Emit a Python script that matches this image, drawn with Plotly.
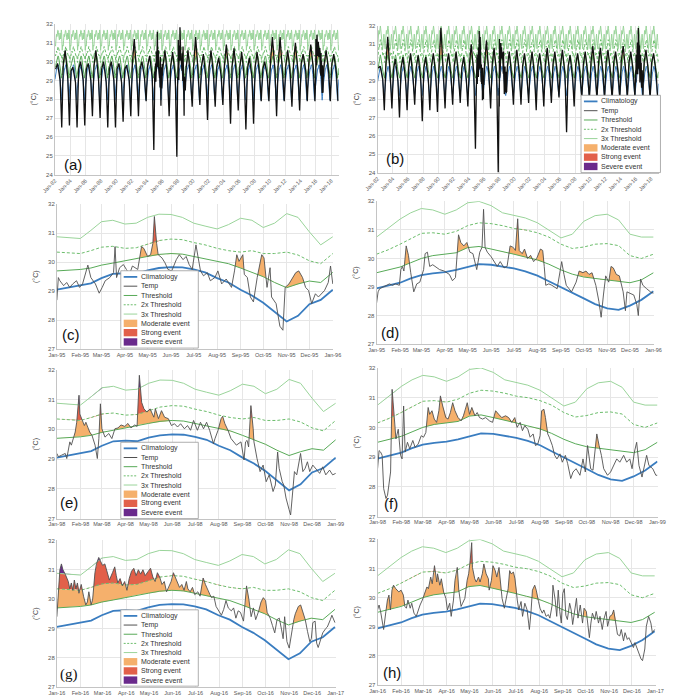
import numpy as np
import plotly.graph_objects as go

W, H = 675, 699

# ---------------- data ----------------
# annual grid (day of year) for climatology and thresholds
grid_doy = [0, 15, 31, 45, 59, 74, 90, 105, 120, 135, 151, 166, 181, 196, 212, 227, 243, 258, 273, 288, 304, 319, 334, 349, 365]

# left-column dataset (panels a, c, e, g)
clim_L = [29.05, 29.12, 29.2, 29.27, 29.45, 29.6, 29.62, 29.6, 29.72, 29.8, 29.83, 29.82, 29.75, 29.65, 29.45, 29.3, 29.05, 28.85, 28.6, 28.3, 27.95, 28.15, 28.55, 28.7, 29.05]
thr_L = [29.7, 29.72, 29.75, 29.8, 29.9, 29.97, 30.05, 30.15, 30.2, 30.27, 30.3, 30.28, 30.2, 30.1, 30.02, 29.95, 29.8, 29.65, 29.5, 29.3, 29.12, 29.25, 29.35, 29.3, 29.65]
thr2_L = [30.35, 30.33, 30.3, 30.4, 30.52, 30.55, 30.48, 30.5, 30.62, 30.75, 30.8, 30.78, 30.68, 30.6, 30.48, 30.4, 30.35, 30.4, 30.3, 30.3, 30.35, 30.25, 30.05, 29.95, 30.3]
thr3_L = [30.88, 30.85, 30.82, 31.1, 31.4, 31.45, 31.32, 31.35, 31.55, 31.66, 31.65, 31.55, 31.35, 31.25, 31.15, 31.3, 31.52, 31.45, 31.2, 31.35, 31.68, 31.55, 31.05, 30.6, 30.88]

# right-column dataset (panels b, d, f, h)
clim_R = [28.95, 29.05, 29.15, 29.3, 29.42, 29.48, 29.52, 29.6, 29.7, 29.8, 29.78, 29.72, 29.65, 29.55, 29.4, 29.2, 29.0, 28.8, 28.6, 28.4, 28.25, 28.2, 28.35, 28.55, 28.85]
thr_R = [29.5, 29.6, 29.7, 29.85, 30.0, 30.1, 30.15, 30.2, 30.38, 30.42, 30.33, 30.25, 30.15, 30.05, 29.95, 29.8, 29.6, 29.45, 29.35, 29.3, 29.25, 29.2, 29.15, 29.25, 29.5]
thr2_R = [30.15, 30.3, 30.5, 30.7, 30.88, 30.9, 30.85, 30.95, 31.15, 31.25, 31.22, 31.15, 31.05, 31.0, 30.9, 30.75, 30.5, 30.35, 30.4, 30.5, 30.52, 30.45, 30.1, 30.0, 30.15]
thr3_R = [30.75, 31.05, 31.38, 31.6, 31.75, 31.7, 31.55, 31.7, 31.95, 32.0, 31.85, 31.6, 31.5, 31.42, 31.25, 31.0, 30.72, 30.85, 31.3, 31.5, 31.55, 31.35, 30.85, 30.75, 30.75]

# (c) 1995, left dataset
c_doy = [0, 2, 4, 9, 13, 17, 21, 26, 30, 34, 41, 45, 51, 56, 60, 64, 70, 75, 77, 79, 83, 88, 92, 96, 100, 107, 112, 115, 120, 124, 127, 129, 132, 134, 139, 143, 147, 152, 158, 162, 167, 171, 175, 179, 184, 187, 190, 194, 199, 203, 209, 213, 218, 224, 231, 235, 238, 241, 246, 248, 252, 256, 260, 265, 271, 274, 278, 282, 284, 290, 295, 299, 302, 307, 312, 316, 320, 325, 329, 333, 337, 342, 346, 354, 359, 362, 365]
c_temp = [28.69, 29.47, 29.36, 29.19, 29.3, 29.13, 29.25, 29.36, 29.13, 29.25, 29.9, 29.47, 29.25, 28.93, 29.13, 29.36, 29.47, 29.64, 30.54, 29.47, 29.81, 29.92, 29.75, 29.58, 29.87, 29.75, 30.54, 30.48, 30.2, 30.26, 30.65, 31.58, 30.65, 30.26, 30.15, 29.98, 29.75, 29.7, 30.09, 30.26, 30.09, 30.2, 29.92, 29.75, 30.6, 30.09, 29.7, 29.53, 29.64, 29.36, 29.47, 29.7, 29.25, 29.42, 29.13, 29.7, 30.26, 30.03, 30.26, 29.58, 29.47, 28.8, 28.63, 29.47, 30.26, 30.15, 29.13, 29.81, 28.8, 28.57, 27.79, 27.65, 29.13, 29.25, 29.47, 29.64, 29.7, 29.47, 29.13, 29.02, 28.57, 28.91, 28.8, 29.02, 29.3, 29.87, 29.25]

# (d) 1995, right dataset
d_doy = [0, 2, 4, 8, 13, 17, 21, 25, 30, 32, 34, 36, 39, 42, 45, 49, 53, 57, 62, 64, 67, 70, 74, 79, 83, 89, 96, 100, 104, 108, 111, 115, 119, 123, 127, 132, 136, 139, 141, 143, 146, 151, 155, 159, 163, 168, 172, 176, 180, 183, 186, 188, 192, 195, 199, 203, 207, 211, 216, 219, 221, 223, 227, 231, 238, 242, 244, 247, 250, 257, 263, 267, 272, 276, 280, 284, 289, 293, 296, 299, 302, 306, 309, 312, 316, 320, 325, 328, 330, 334, 339, 343, 345, 348, 351, 356, 361, 365]
d_temp = [28.44, 28.83, 28.94, 29.0, 29.06, 29.11, 29.06, 29.11, 29.06, 29.61, 29.72, 29.56, 30.44, 30.11, 29.5, 28.83, 29.11, 29.17, 29.61, 30.17, 30.22, 29.72, 29.78, 29.67, 29.61, 29.56, 29.44, 29.22, 29.33, 30.83, 30.56, 30.44, 30.56, 30.22, 30.17, 29.61, 30.22, 30.39, 31.72, 30.39, 30.22, 30.06, 29.89, 29.72, 29.89, 29.67, 29.72, 30.44, 30.39, 30.28, 31.39, 30.28, 30.17, 30.33, 30.0, 30.11, 29.89, 30.0, 30.33, 30.28, 29.72, 29.06, 29.11, 29.06, 28.94, 29.5, 29.89, 29.44, 29.06, 28.83, 29.17, 29.56, 29.5, 29.56, 29.44, 29.5, 29.06, 28.5, 27.94, 28.72, 29.39, 29.17, 29.72, 29.67, 29.44, 29.39, 28.83, 28.17, 28.83, 28.78, 28.72, 28.39, 28.0, 29.28, 29.06, 28.94, 28.83, 28.78]

# (e) 1998, left dataset
e_doy = [0, 2, 6, 11, 13, 17, 19, 21, 24, 26, 29, 30, 33, 36, 38, 40, 43, 46, 50, 53, 55, 57, 59, 63, 68, 72, 76, 80, 84, 89, 93, 97, 102, 105, 108, 111, 114, 118, 122, 127, 129, 133, 137, 141, 146, 150, 154, 158, 162, 167, 171, 175, 179, 184, 188, 192, 196, 200, 205, 207, 211, 215, 217, 220, 224, 228, 232, 235, 241, 245, 247, 249, 251, 254, 257, 258, 262, 266, 270, 274, 278, 283, 286, 289, 291, 295, 297, 300, 304, 306, 308, 311, 314, 319, 322, 325, 328, 331, 335, 340, 344, 348, 352, 357, 361, 365]
e_temp = [29.19, 29.08, 29.13, 29.19, 29.02, 29.58, 29.47, 29.63, 29.91, 30.24, 31.15, 30.52, 30.3, 30.13, 30.24, 30.08, 29.91, 29.8, 29.47, 29.02, 29.69, 30.86, 30.02, 29.74, 29.86, 29.69, 30.02, 30.05, 30.15, 30.1, 30.2, 30.05, 30.15, 30.1, 31.82, 30.91, 30.69, 30.58, 30.69, 30.41, 30.69, 30.36, 30.63, 30.41, 30.36, 30.13, 30.19, 30.08, 30.19, 30.02, 30.13, 29.97, 30.3, 29.97, 30.24, 30.02, 30.24, 29.97, 29.52, 29.69, 29.97, 30.36, 30.44, 30.19, 29.97, 29.69, 29.58, 29.47, 29.58, 28.97, 29.58, 29.63, 29.41, 30.8, 30.02, 29.58, 29.02, 28.58, 28.8, 28.24, 28.47, 27.91, 28.13, 29.24, 28.69, 28.24, 28.13, 27.69, 27.3, 27.12, 27.69, 28.58, 28.47, 29.19, 28.58, 28.69, 28.91, 28.58, 28.8, 28.63, 28.52, 28.74, 28.47, 28.63, 28.47, 28.52]

# (f) 1998, right dataset
f_doy = [0, 2, 4, 6, 8, 11, 13, 15, 17, 19, 22, 24, 27, 30, 32, 34, 36, 39, 42, 46, 49, 53, 57, 60, 63, 66, 68, 71, 74, 77, 80, 82, 85, 89, 92, 95, 98, 101, 105, 109, 112, 115, 117, 120, 123, 127, 130, 133, 137, 141, 146, 150, 154, 158, 162, 167, 171, 175, 179, 182, 186, 189, 192, 196, 199, 203, 206, 209, 212, 214, 217, 219, 222, 224, 228, 231, 234, 238, 241, 245, 248, 252, 255, 259, 264, 268, 271, 274, 278, 281, 284, 286, 289, 292, 295, 300, 304, 308, 312, 316, 321, 325, 329, 332, 335, 338, 341, 345, 348, 351, 354, 359, 363, 365]
f_temp = [28.61, 29.22, 29.17, 29.06, 27.94, 27.61, 27.72, 28.06, 28.5, 31.28, 30.17, 29.61, 29.94, 29.06, 28.94, 30.72, 29.17, 29.5, 29.28, 29.56, 29.33, 29.44, 29.72, 29.67, 29.83, 30.67, 30.44, 30.56, 30.28, 30.17, 30.56, 31.06, 30.72, 30.33, 30.28, 30.5, 30.83, 30.56, 30.33, 30.22, 30.39, 30.61, 30.83, 30.44, 30.67, 30.39, 30.5, 30.33, 30.28, 30.33, 30.22, 30.17, 30.56, 30.44, 30.33, 30.39, 30.33, 30.17, 30.33, 30.0, 30.17, 29.89, 30.06, 29.94, 29.67, 29.78, 29.39, 29.44, 29.72, 30.56, 30.61, 30.33, 29.78, 29.67, 29.39, 29.06, 28.94, 29.11, 28.83, 29.06, 28.78, 28.28, 28.5, 28.61, 28.39, 28.94, 28.5, 29.39, 28.61, 28.56, 29.39, 29.78, 29.39, 29.06, 28.61, 28.39, 28.5, 28.72, 28.94, 28.83, 29.06, 28.83, 28.94, 28.61, 29.17, 29.5, 28.72, 28.33, 28.72, 29.06, 28.72, 28.61, 28.39, 28.39]

# (g) 2016, left dataset
g_doy = [0, 2, 4, 6, 8, 11, 15, 17, 19, 21, 23, 25, 27, 29, 32, 35, 38, 40, 42, 45, 47, 50, 52, 55, 57, 60, 63, 66, 69, 73, 76, 78, 80, 83, 86, 89, 92, 95, 98, 101, 104, 107, 110, 113, 116, 120, 123, 126, 129, 132, 135, 138, 141, 144, 147, 150, 153, 156, 159, 161, 164, 167, 170, 172, 175, 178, 181, 185, 188, 190, 192, 195, 198, 201, 203, 206, 209, 213, 216, 219, 222, 225, 229, 232, 235, 238, 241, 245, 247, 249, 252, 255, 258, 261, 265, 268, 271, 274, 276, 280, 283, 286, 289, 292, 295, 297, 299, 302, 305, 308, 311, 313, 317, 320, 323, 326, 329, 332, 334, 336, 339, 341, 343, 346, 349, 353, 355, 359, 361, 365]
g_temp = [29.4, 30.3, 31.0, 31.2, 31.0, 30.85, 30.6, 30.35, 30.55, 30.3, 30.65, 30.35, 30.55, 30.2, 30.5, 30.1, 29.8, 29.9, 30.25, 29.8, 30.0, 30.9, 31.2, 31.42, 31.3, 31.15, 31.2, 30.9, 30.65, 30.9, 31.1, 30.8, 30.55, 30.7, 30.45, 30.6, 30.3, 30.7, 30.95, 31.05, 30.8, 31.0, 30.85, 31.0, 30.8, 30.95, 31.05, 30.75, 30.6, 30.9, 30.75, 30.5, 30.6, 30.25, 30.4, 30.6, 30.9, 30.7, 30.55, 30.4, 30.5, 30.3, 30.6, 30.35, 30.25, 30.4, 30.15, 30.25, 30.1, 30.45, 30.72, 30.5, 30.3, 30.15, 30.05, 30.1, 29.75, 29.6, 29.45, 29.65, 29.95, 29.7, 29.6, 29.7, 29.35, 29.6, 29.55, 29.25, 29.75, 30.45, 30.0, 29.4, 29.7, 29.3, 29.6, 29.9, 30.05, 29.95, 29.55, 29.35, 29.1, 28.85, 29.3, 29.35, 28.95, 28.65, 29.4, 28.55, 28.33, 28.85, 29.3, 29.5, 29.75, 29.8, 29.55, 29.3, 28.9, 28.55, 28.65, 29.2, 29.25, 28.5, 28.35, 28.6, 28.85, 29.0, 29.05, 29.3, 29.45, 29.2]

# (h) 2016, right dataset
h_doy = [0, 2, 4, 6, 8, 11, 13, 15, 17, 19, 21, 24, 28, 31, 34, 36, 38, 40, 43, 45, 48, 51, 53, 56, 59, 62, 65, 67, 70, 72, 75, 78, 79, 82, 84, 87, 90, 92, 95, 97, 100, 102, 105, 107, 110, 112, 115, 118, 120, 122, 124, 125, 128, 130, 133, 135, 138, 140, 143, 146, 147, 150, 152, 155, 157, 160, 163, 164, 167, 169, 172, 174, 176, 179, 181, 184, 186, 189, 191, 194, 197, 199, 200, 202, 204, 207, 209, 212, 214, 217, 219, 222, 225, 227, 230, 231, 234, 236, 238, 240, 242, 244, 246, 248, 250, 253, 255, 257, 259, 262, 264, 267, 270, 272, 275, 277, 279, 281, 283, 286, 288, 291, 293, 296, 298, 301, 303, 306, 309, 311, 314, 316, 319, 321, 324, 326, 329, 331, 334, 337, 339, 342, 344, 347, 349, 352, 354, 357, 360, 362, 365]
h_temp = [29.58, 29.75, 29.53, 29.25, 28.91, 29.53, 29.92, 30.09, 29.58, 30.26, 30.43, 30.31, 30.2, 30.26, 30.09, 29.7, 29.64, 29.92, 29.64, 29.81, 29.47, 29.36, 29.53, 29.75, 29.92, 30.15, 30.37, 30.31, 30.71, 30.48, 31.1, 30.54, 30.82, 30.43, 30.65, 30.2, 29.98, 29.58, 29.81, 29.36, 29.92, 30.6, 31.04, 30.26, 29.7, 29.81, 29.98, 30.6, 30.82, 31.27, 31.89, 31.04, 30.65, 30.54, 30.71, 30.54, 30.82, 31.16, 30.82, 30.65, 30.26, 30.6, 31.1, 30.93, 30.71, 31.04, 30.26, 29.98, 29.64, 29.92, 30.31, 30.93, 30.82, 30.88, 30.65, 29.92, 29.58, 29.87, 29.36, 29.81, 29.58, 29.13, 28.91, 29.47, 30.26, 30.43, 30.26, 29.87, 29.64, 29.47, 29.58, 29.36, 29.42, 29.3, 29.75, 30.43, 29.92, 29.36, 30.26, 29.53, 29.13, 30.15, 30.31, 29.4, 29.25, 29.81, 29.58, 29.08, 29.47, 29.98, 29.3, 29.75, 29.13, 29.64, 29.53, 29.13, 28.63, 29.13, 29.47, 29.25, 29.53, 29.13, 29.36, 28.91, 29.25, 29.53, 29.02, 29.36, 29.42, 29.58, 29.08, 28.74, 28.69, 28.91, 28.52, 28.8, 28.57, 28.63, 28.46, 28.29, 28.46, 28.24, 28.07, 27.9, 27.84, 28.24, 29.02, 29.36, 29.13, 28.8, 28.91]

# (a)/(b) 1982-2018: per-year readings (early-year level, yearly peak, late-year level, yearly dip)
years = list(range(1982, 2019))
coarse_doy = [35, 125, 250, 325]
a_hi = [29.6, 29.9, 29.5, 29.6, 29.6, 29.8, 29.6, 29.6, 29.6, 29.6, 29.9, 29.6, 29.8, 29.7, 29.8, 29.8, 30.3, 29.6, 29.9, 29.7, 29.7, 29.7, 29.8, 29.8, 29.7, 29.6, 29.7, 29.6, 30.0, 29.8, 29.8, 29.9, 29.9, 30.0, 30.5, 29.9, 29.9]
a_peak = [29.9, 30.6, 29.7, 30.0, 29.9, 30.6, 30.0, 30.0, 29.9, 29.8, 31.2, 30.0, 30.3, 31.6, 30.6, 30.5, 31.8, 30.6, 31.3, 30.4, 30.6, 30.2, 30.9, 30.7, 30.5, 30.2, 30.5, 30.0, 31.3, 31.3, 30.6, 31.0, 30.4, 30.9, 31.5, 30.6, 30.4]
a_lo = [29.0, 29.1, 28.9, 29.0, 29.0, 29.1, 28.9, 29.0, 28.9, 29.0, 29.2, 29.1, 29.2, 29.3, 29.1, 29.2, 29.6, 29.1, 29.3, 29.1, 29.2, 29.2, 29.3, 29.2, 29.1, 29.2, 29.3, 29.2, 29.5, 29.3, 29.3, 29.4, 29.5, 29.6, 29.7, 29.4, 29.4]
a_dip = [26.5, 26.6, 26.5, 26.6, 27.1, 27.0, 26.5, 26.5, 26.8, 27.1, 27.1, 27.9, 25.3, 27.65, 27.1, 24.95, 27.1, 27.6, 27.7, 26.9, 27.6, 27.7, 26.7, 27.4, 26.4, 26.7, 27.9, 27.9, 27.1, 27.9, 27.6, 27.4, 27.9, 27.9, 28.3, 27.9, 27.9]
b_hi = [29.7, 29.9, 29.6, 29.7, 29.7, 29.7, 29.7, 29.8, 29.9, 29.8, 29.8, 29.7, 29.9, 29.9, 29.9, 29.9, 30.2, 29.8, 29.9, 29.8, 29.8, 29.8, 29.9, 29.9, 29.9, 29.8, 29.9, 29.9, 30.0, 30.0, 30.0, 30.0, 30.1, 30.0, 30.3, 30.0, 30.0]
b_peak = [29.8, 31.4, 30.2, 30.3, 30.5, 30.4, 30.3, 30.5, 31.9, 30.5, 30.6, 30.3, 31.0, 31.7, 31.2, 30.8, 31.3, 30.6, 30.7, 30.5, 30.6, 30.5, 30.8, 30.6, 30.7, 30.4, 30.5, 30.6, 30.9, 30.8, 30.7, 30.6, 30.9, 30.6, 31.9, 30.7, 30.5]
b_lo = [29.1, 29.2, 29.0, 29.1, 29.1, 29.1, 29.1, 29.2, 29.2, 29.2, 29.2, 29.1, 29.3, 29.3, 29.2, 29.3, 29.4, 29.2, 29.3, 29.2, 29.2, 29.2, 29.3, 29.3, 29.3, 29.2, 29.3, 29.3, 29.4, 29.4, 29.4, 29.4, 29.5, 29.4, 29.6, 29.4, 29.4]
b_dip = [27.4, 27.5, 27.0, 27.4, 27.7, 26.8, 27.4, 27.3, 27.5, 27.7, 27.8, 27.6, 25.3, 27.9, 27.5, 24.0, 28.3, 27.7, 27.7, 27.8, 27.4, 27.6, 27.8, 28.1, 26.2, 27.6, 28.0, 28.0, 27.9, 28.0, 27.9, 28.0, 28.0, 28.1, 27.8, 28.0, 28.0]

legend_labels = ["Climatology", "Temp", "Threshold", "2x Threshold", "3x Threshold",
                 "Moderate event", "Strong event", "Severe event"]
panel_keys = ["a", "b", "c", "d", "e", "f", "g", "h"]
panel_labels = ["(a)", "(b)", "(c)", "(d)", "(e)", "(f)", "(g)", "(h)"]
y_title = "(°C)"

# ---------------- styles / layout ----------------
FONT = "Liberation Sans"
C_CLIM, C_TEMP, C_TEMP_LONG = "#3a7dc0", "#505050", "#111111"
C_THR, C_THR2, C_THR3 = "#58aa58", "#6cbd6c", "#9ad49a"
C_MOD, C_STR, C_SEV = "#f5b06c", "#e2604a", "#6a2a8c"
GRID = "#e6e6e6"

panel_px = {  # x0, x1, ytop, ybottom in pixels
    "a": (35, 328, 13, 165), "b": (368, 658, 15, 163),
    "c": (37, 322, 195, 341), "d": (367, 653, 192, 336),
    "e": (37, 325, 362, 512), "f": (368, 657, 360, 510),
    "g": (37, 325, 534, 682), "h": (368, 655, 533, 680),
}
label_px = {"a": (42, 155), "b": (375, 149), "c": (40, 326), "d": (370, 324),
            "e": (38, 496), "f": (373, 497), "g": (38, 669), "h": (372, 667)}
legend_px = {"b": (578, 85, 660, 163), "c": (103, 262, 183, 340),
             "e": (103, 435, 183, 512), "g": (103, 604, 183, 681)}

datasets = {
    "L": (clim_L, thr_L, thr2_L, thr3_L),
    "R": (clim_R, thr_R, thr2_R, thr3_R),
}
detail = {"c": (1995, c_doy, c_temp), "d": (1995, d_doy, d_temp),
          "e": (1998, e_doy, e_temp), "f": (1998, f_doy, f_temp),
          "g": (2016, g_doy, g_temp), "h": (2016, h_doy, h_temp)}


def doy_days(year, doys):
    base = (np.datetime64(f"{year}-01-01") - np.datetime64("1970-01-01")).astype(int)
    return base + np.asarray(doys, float)


def to_str(days):
    sec = np.round(np.asarray(days, float) * 86400).astype("int64")
    dt = np.datetime64("1970-01-01T00:00:00") + sec.astype("timedelta64[s]")
    return [s.replace("T", " ") for s in np.datetime_as_string(dt, unit="m")]


def event_fill(tt, T, tg, L1, L2, L3, min_dur=5.0):
    lo, hi = max(tt[0], tg[0]), min(tt[-1], tg[-1])
    tu = np.union1d(tt, tg)
    tu = tu[(tu >= lo) & (tu <= hi)]
    Tu = np.interp(tu, tt, T)
    ls = [np.interp(tu, tg, L) for L in (L1, L2, L3)]
    xs = [tu[0]]
    for i in range(len(tu) - 1):
        fr = []
        for L in ls:
            d0, d1 = Tu[i] - L[i], Tu[i + 1] - L[i + 1]
            if d0 * d1 < 0:
                fr.append(d0 / (d0 - d1))
        for f in sorted(fr):
            xs.append(tu[i] + f * (tu[i + 1] - tu[i]))
        xs.append(tu[i + 1])
    xs = np.array(xs)
    Tr = np.interp(xs, tu, Tu)
    a1, a2, a3 = [np.interp(xs, tu, L) for L in ls]
    above = Tr > a1 + 1e-9
    Te = Tr.copy()
    n = len(xs)
    i = 0
    while i < n:
        if above[i]:
            j = i
            while j + 1 < n and above[j + 1]:
                j += 1
            start = xs[i - 1] if i > 0 else xs[i]
            end = xs[j + 1] if j + 1 < n else xs[j]
            if end - start < min_dur:
                Te[i:j + 1] = a1[i:j + 1]
            i = j + 1
        else:
            i += 1
    mod = np.minimum(np.maximum(Te, a1), a2)
    stg = np.minimum(np.maximum(Te, a2), a3)
    sev = np.maximum(Te, a3)
    return xs, [(a1, mod, C_MOD), (a2, stg, C_STR), (a3, sev, C_SEV)]


fig = go.Figure()
layout = {}
shapes, annos = [], []

for i, key in enumerate(panel_keys, start=1):
    xn = "x" if i == 1 else f"x{i}"
    yn = "y" if i == 1 else f"y{i}"
    clim, thr, thr2, thr3 = datasets["L" if key in "aceg" else "R"]
    long = key in "ab"
    if long:
        tg = np.concatenate([doy_days(yr, grid_doy[:-1]) for yr in years] + [doy_days(years[-1] + 1, [0])])
        tile = lambda arr: np.concatenate([np.array(arr[:-1], float) for _ in years] + [np.array(arr[-1:], float)])
        cl, t1, t2, t3 = tile(clim), tile(thr), tile(thr2), tile(thr3)
        hi, pk, lo_, dp = (a_hi, a_peak, a_lo, a_dip) if key == "a" else (b_hi, b_peak, b_lo, b_dip)
        dkeys = ["c", "e", "g"] if key == "a" else ["d", "f", "h"]
        dmap = {detail[k][0]: detail[k] for k in dkeys}
        ts, vs = [], []
        for k, yr in enumerate(years):
            if yr in dmap:
                _, dd, vv = dmap[yr]
                ts.append(doy_days(yr, dd)); vs.append(np.array(vv, float))
            else:
                ts.append(doy_days(yr, coarse_doy)); vs.append(np.array([hi[k], pk[k], lo_[k], dp[k]], float))
        tt, T = np.concatenate(ts), np.concatenate(vs)
        xr = to_str([doy_days(1982, [0])[0], doy_days(2018, [364])[0]])
        yr_range = [23.999, 32.001]
        lw = dict(clim=1.0, temp=1.3, thr=1.0)
        tcol = C_TEMP_LONG
    else:
        year, dd, vv = detail[key]
        tg = doy_days(year, grid_doy)
        cl, t1, t2, t3 = [np.array(a, float) for a in (clim, thr, thr2, thr3)]
        tt, T = doy_days(year, dd), np.array(vv, float)
        xr = to_str([doy_days(year, [0])[0], doy_days(year + 1, [0])[0] + 0.25])
        yr_range = [26.999, 32.001]
        lw = dict(clim=1.8, temp=0.9, thr=1.0)
        tcol = C_TEMP

    xs, layers = event_fill(tt, T, tg, t1, t2, t3)
    xs_s = to_str(xs)
    for lower, upper, colr in layers:
        fig.add_trace(go.Scatter(x=xs_s, y=lower, mode="lines", line=dict(width=0, color=colr),
                                 hoverinfo="skip", showlegend=False, xaxis=xn, yaxis=yn))
        fig.add_trace(go.Scatter(x=xs_s, y=upper, mode="lines", line=dict(width=0, color=colr),
                                 fill="tonexty", fillcolor=colr, hoverinfo="skip",
                                 showlegend=False, xaxis=xn, yaxis=yn))
    tg_s = to_str(tg)
    fig.add_trace(go.Scatter(x=tg_s, y=cl, mode="lines", line=dict(color=C_CLIM, width=lw["clim"]),
                             showlegend=False, xaxis=xn, yaxis=yn, name=legend_labels[0]))
    fig.add_trace(go.Scatter(x=tg_s, y=t3, mode="lines", line=dict(color=C_THR3, width=lw["thr"]),
                             showlegend=False, xaxis=xn, yaxis=yn, name=legend_labels[4]))
    fig.add_trace(go.Scatter(x=tg_s, y=t2, mode="lines", line=dict(color=C_THR2, width=lw["thr"], dash="3px,2px"),
                             showlegend=False, xaxis=xn, yaxis=yn, name=legend_labels[3]))
    fig.add_trace(go.Scatter(x=tg_s, y=t1, mode="lines", line=dict(color=C_THR, width=lw["thr"]),
                             showlegend=False, xaxis=xn, yaxis=yn, name=legend_labels[2]))
    fig.add_trace(go.Scatter(x=to_str(tt), y=T, mode="lines", line=dict(color=tcol, width=lw["temp"]),
                             showlegend=False, xaxis=xn, yaxis=yn, name=legend_labels[1]))

    x0, x1, ytop, ybot = panel_px[key]
    xa = dict(domain=[x0 / W, x1 / W], anchor=yn, type="date", range=xr,
              showgrid=True, gridcolor=GRID, gridwidth=0.6, zeroline=False,
              showline=True, linecolor="#c4c4c4", linewidth=0.8, ticks="",
              tickfont=dict(size=5.5, color="#555", family=FONT), tickformat="%b-%y")
    if long:
        xa.update(dtick="M24", tick0="1982-01-01", tickangle=-45)
    else:
        xa.update(dtick="M1", tick0=f"{detail[key][0]}-01-01", tickangle=0)
    ya = dict(domain=[1 - ybot / H, 1 - ytop / H], anchor=xn, range=yr_range, dtick=1,
              tick0=24, showgrid=True, gridcolor=GRID, gridwidth=0.6, zeroline=False,
              showline=True, linecolor="#c4c4c4", linewidth=0.8, ticks="",
              tickfont=dict(size=6, color="#555", family=FONT),
              title=dict(text=y_title, font=dict(size=7, color="#444", family=FONT), standoff=8))
    layout["xaxis" if i == 1 else f"xaxis{i}"] = xa
    layout["yaxis" if i == 1 else f"yaxis{i}"] = ya

    lx, ly = label_px[key]
    annos.append(dict(text=panel_labels[i - 1], xref="paper", yref="paper", x=lx / W, y=1 - ly / H,
                      xanchor="left", yanchor="middle", showarrow=False,
                      font=dict(size=15, color="#111",
                                family="Liberation Serif" if key == "g" else FONT)))

# manual legends
leg_styles = [("line", C_CLIM, 1.8, "solid"), ("line", C_TEMP, 1.0, "solid"),
              ("line", C_THR, 1.0, "solid"), ("line", C_THR2, 1.0, "2px,1.5px"),
              ("line", C_THR3, 1.0, "solid"), ("rect", C_MOD, 0, None),
              ("rect", C_STR, 0, None), ("rect", C_SEV, 0, None)]
for key, (bx0, by0, bx1, by1) in legend_px.items():
    shapes.append(dict(type="rect", xref="paper", yref="paper", x0=bx0 / W, x1=bx1 / W,
                       y0=1 - by1 / H, y1=1 - by0 / H, line=dict(color="#9a9a9a", width=0.8),
                       fillcolor="white", layer="above"))
    n = len(legend_labels)
    step = (by1 - by0 - 3) / n
    for k, lab in enumerate(legend_labels):
        yc = by0 + 1.5 + step * (k + 0.5)
        sx0, sx1 = bx0 + 3, bx0 + 17
        kind, colr, wdt, dash = leg_styles[k]
        if kind == "line":
            shapes.append(dict(type="line", xref="paper", yref="paper", x0=sx0 / W, x1=sx1 / W,
                               y0=1 - yc / H, y1=1 - yc / H,
                               line=dict(color=colr, width=wdt, dash=dash), layer="above"))
        else:
            shapes.append(dict(type="rect", xref="paper", yref="paper", x0=sx0 / W, x1=sx1 / W,
                               y0=1 - (yc + 3.7) / H, y1=1 - (yc - 3.7) / H,
                               line=dict(width=0), fillcolor=colr, layer="above"))
        annos.append(dict(text=lab, xref="paper", yref="paper", x=(sx1 + 2) / W, y=1 - yc / H,
                          xanchor="left", yanchor="middle", showarrow=False,
                          font=dict(size=7.0, color="#333", family=FONT)))

fig.update_layout(width=W, height=H, margin=dict(l=0, r=0, t=0, b=0),
                  paper_bgcolor="white", plot_bgcolor="white", showlegend=False,
                  shapes=shapes, annotations=annos, font=dict(family=FONT), **layout)
fig.write_html("out.html")
